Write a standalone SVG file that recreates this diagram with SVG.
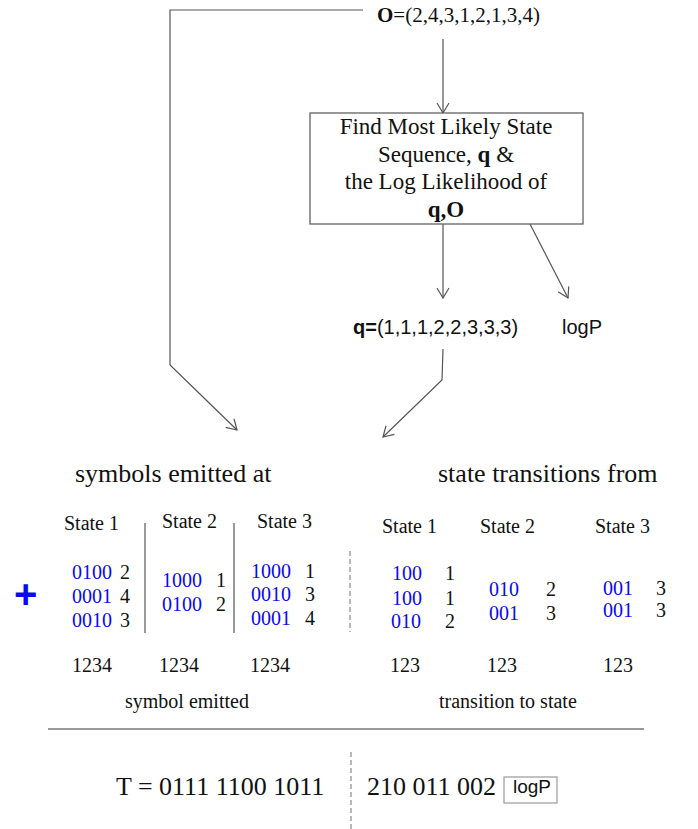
<svg xmlns="http://www.w3.org/2000/svg" width="698" height="829" viewBox="0 0 698 829">
<style>
.serif{font-family:"Liberation Serif","Times New Roman",serif;fill:#111}
.sans{font-family:"Liberation Sans",Arial,sans-serif;fill:#111}
.t20{font-size:20px}
.t26{font-size:26px}
.blue{fill:#0a0aee}
.ln{stroke:#555;stroke-width:1.2;fill:none}
.sep{stroke:#777;stroke-width:1.6;fill:none}
.dash{stroke:#888;stroke-width:1.2;stroke-dasharray:5,3;fill:none}
</style>
<defs>
<marker id="arr" markerUnits="userSpaceOnUse" markerWidth="12" markerHeight="14" refX="11" refY="7" orient="auto" viewBox="0 0 12 14">
<path d="M1,1 L11,7 L1,13" fill="none" stroke="#555" stroke-width="1.2"/>
</marker>
</defs>
<rect width="698" height="829" fill="#fff"/>

<g id="connectors">
<path class="ln" d="M363,10 H170 V365 L237,430" marker-end="url(#arr)"/>
<path class="ln" d="M443,39 V113" marker-end="url(#arr)"/>
<path class="ln" d="M443,224 V298" marker-end="url(#arr)"/>
<path class="ln" d="M530,224 L568,298" marker-end="url(#arr)"/>
<path class="ln" d="M443,349 L442,380 L383,437" marker-end="url(#arr)"/>
</g>

<g id="observation">
<text class="serif" x="377" y="22" font-size="21"><tspan font-weight="bold">O</tspan>=(2,4,3,1,2,1,3,4)</text>
</g>

<g id="viterbi-box">
<rect x="310" y="113" width="273" height="111" fill="#fff" stroke="#555" stroke-width="1.2"/>
<text class="serif" x="446" y="134" font-size="23" text-anchor="middle">Find Most Likely State</text>
<text class="serif" x="446" y="161.5" font-size="23" text-anchor="middle">Sequence, <tspan font-weight="bold">q</tspan> &amp;</text>
<text class="serif" x="446" y="189" font-size="23" text-anchor="middle">the Log Likelihood of</text>
<text class="serif" x="446" y="216.5" font-size="23" text-anchor="middle" font-weight="bold">q,O</text>
</g>

<g id="state-sequence">
<text class="sans" x="353" y="334" font-size="20"><tspan font-weight="bold">q=</tspan>(1,1,1,2,2,3,3,3)</text>
</g>

<g id="logP">
<text class="sans" x="562" y="334" font-size="20">logP</text>
</g>

<g id="symbols-emitted">
<text class="serif t26" x="75" y="482">symbols emitted at</text>
<text class="serif t20" x="64" y="530">State 1</text>
<text class="serif t20" x="162" y="528">State 2</text>
<text class="serif t20" x="257" y="528">State 3</text>
<line class="ln" x1="145" y1="523" x2="145" y2="633"/>
<line class="ln" x1="234" y1="523" x2="234" y2="633"/>
<text class="sans blue" x="14" y="608" font-size="40" font-weight="bold">+</text>
<g class="serif t20">
<text x="72" y="579"><tspan class="blue">0100</tspan></text><text x="120" y="579">2</text>
<text x="72" y="603"><tspan class="blue">0001</tspan></text><text x="120" y="603">4</text>
<text x="72" y="627"><tspan class="blue">0010</tspan></text><text x="120" y="627">3</text>
<text x="162" y="587"><tspan class="blue">1000</tspan></text><text x="216" y="587">1</text>
<text x="162" y="611"><tspan class="blue">0100</tspan></text><text x="216" y="611">2</text>
<text x="251" y="578"><tspan class="blue">1000</tspan></text><text x="305" y="578">1</text>
<text x="251" y="601"><tspan class="blue">0010</tspan></text><text x="305" y="601">3</text>
<text x="251" y="625"><tspan class="blue">0001</tspan></text><text x="305" y="625">4</text>
<text x="72" y="672">1234</text>
<text x="159" y="672">1234</text>
<text x="250" y="672">1234</text>
<text x="125" y="708">symbol emitted</text>
</g>
</g>

<g id="state-transitions">
<text class="serif t26" x="438" y="482">state transitions from</text>
<text class="serif t20" x="382" y="533">State 1</text>
<text class="serif t20" x="480" y="533">State 2</text>
<text class="serif t20" x="595" y="533">State 3</text>
<line class="dash" x1="350" y1="551" x2="350" y2="632"/>
<g class="serif t20">
<text x="392" y="580"><tspan class="blue">100</tspan></text><text x="445" y="580">1</text>
<text x="392" y="605"><tspan class="blue">100</tspan></text><text x="445" y="605">1</text>
<text x="391" y="628"><tspan class="blue">010</tspan></text><text x="445" y="628">2</text>
<text x="489" y="596"><tspan class="blue">010</tspan></text><text x="546" y="596">2</text>
<text x="489" y="620"><tspan class="blue">001</tspan></text><text x="546" y="620">3</text>
<text x="603" y="595"><tspan class="blue">001</tspan></text><text x="656" y="595">3</text>
<text x="603" y="617"><tspan class="blue">001</tspan></text><text x="656" y="617">3</text>
<text x="390" y="672">123</text>
<text x="487" y="672">123</text>
<text x="603" y="672">123</text>
<text x="439" y="708">transition to state</text>
</g>
</g>

<g id="result">
<line class="sep" x1="48" y1="729" x2="644" y2="729"/>
<line class="dash" x1="351" y1="752" x2="351" y2="829"/>
<text class="serif t26" x="116" y="795">T = 0111 1100 1011</text>
<text class="serif t26" x="367" y="795">210 011 002</text>
<rect x="504" y="777" width="53" height="26" fill="#fff" stroke="#999" stroke-width="1.2"/>
<text class="sans" x="513" y="793" font-size="19">logP</text>
</g>
</svg>
